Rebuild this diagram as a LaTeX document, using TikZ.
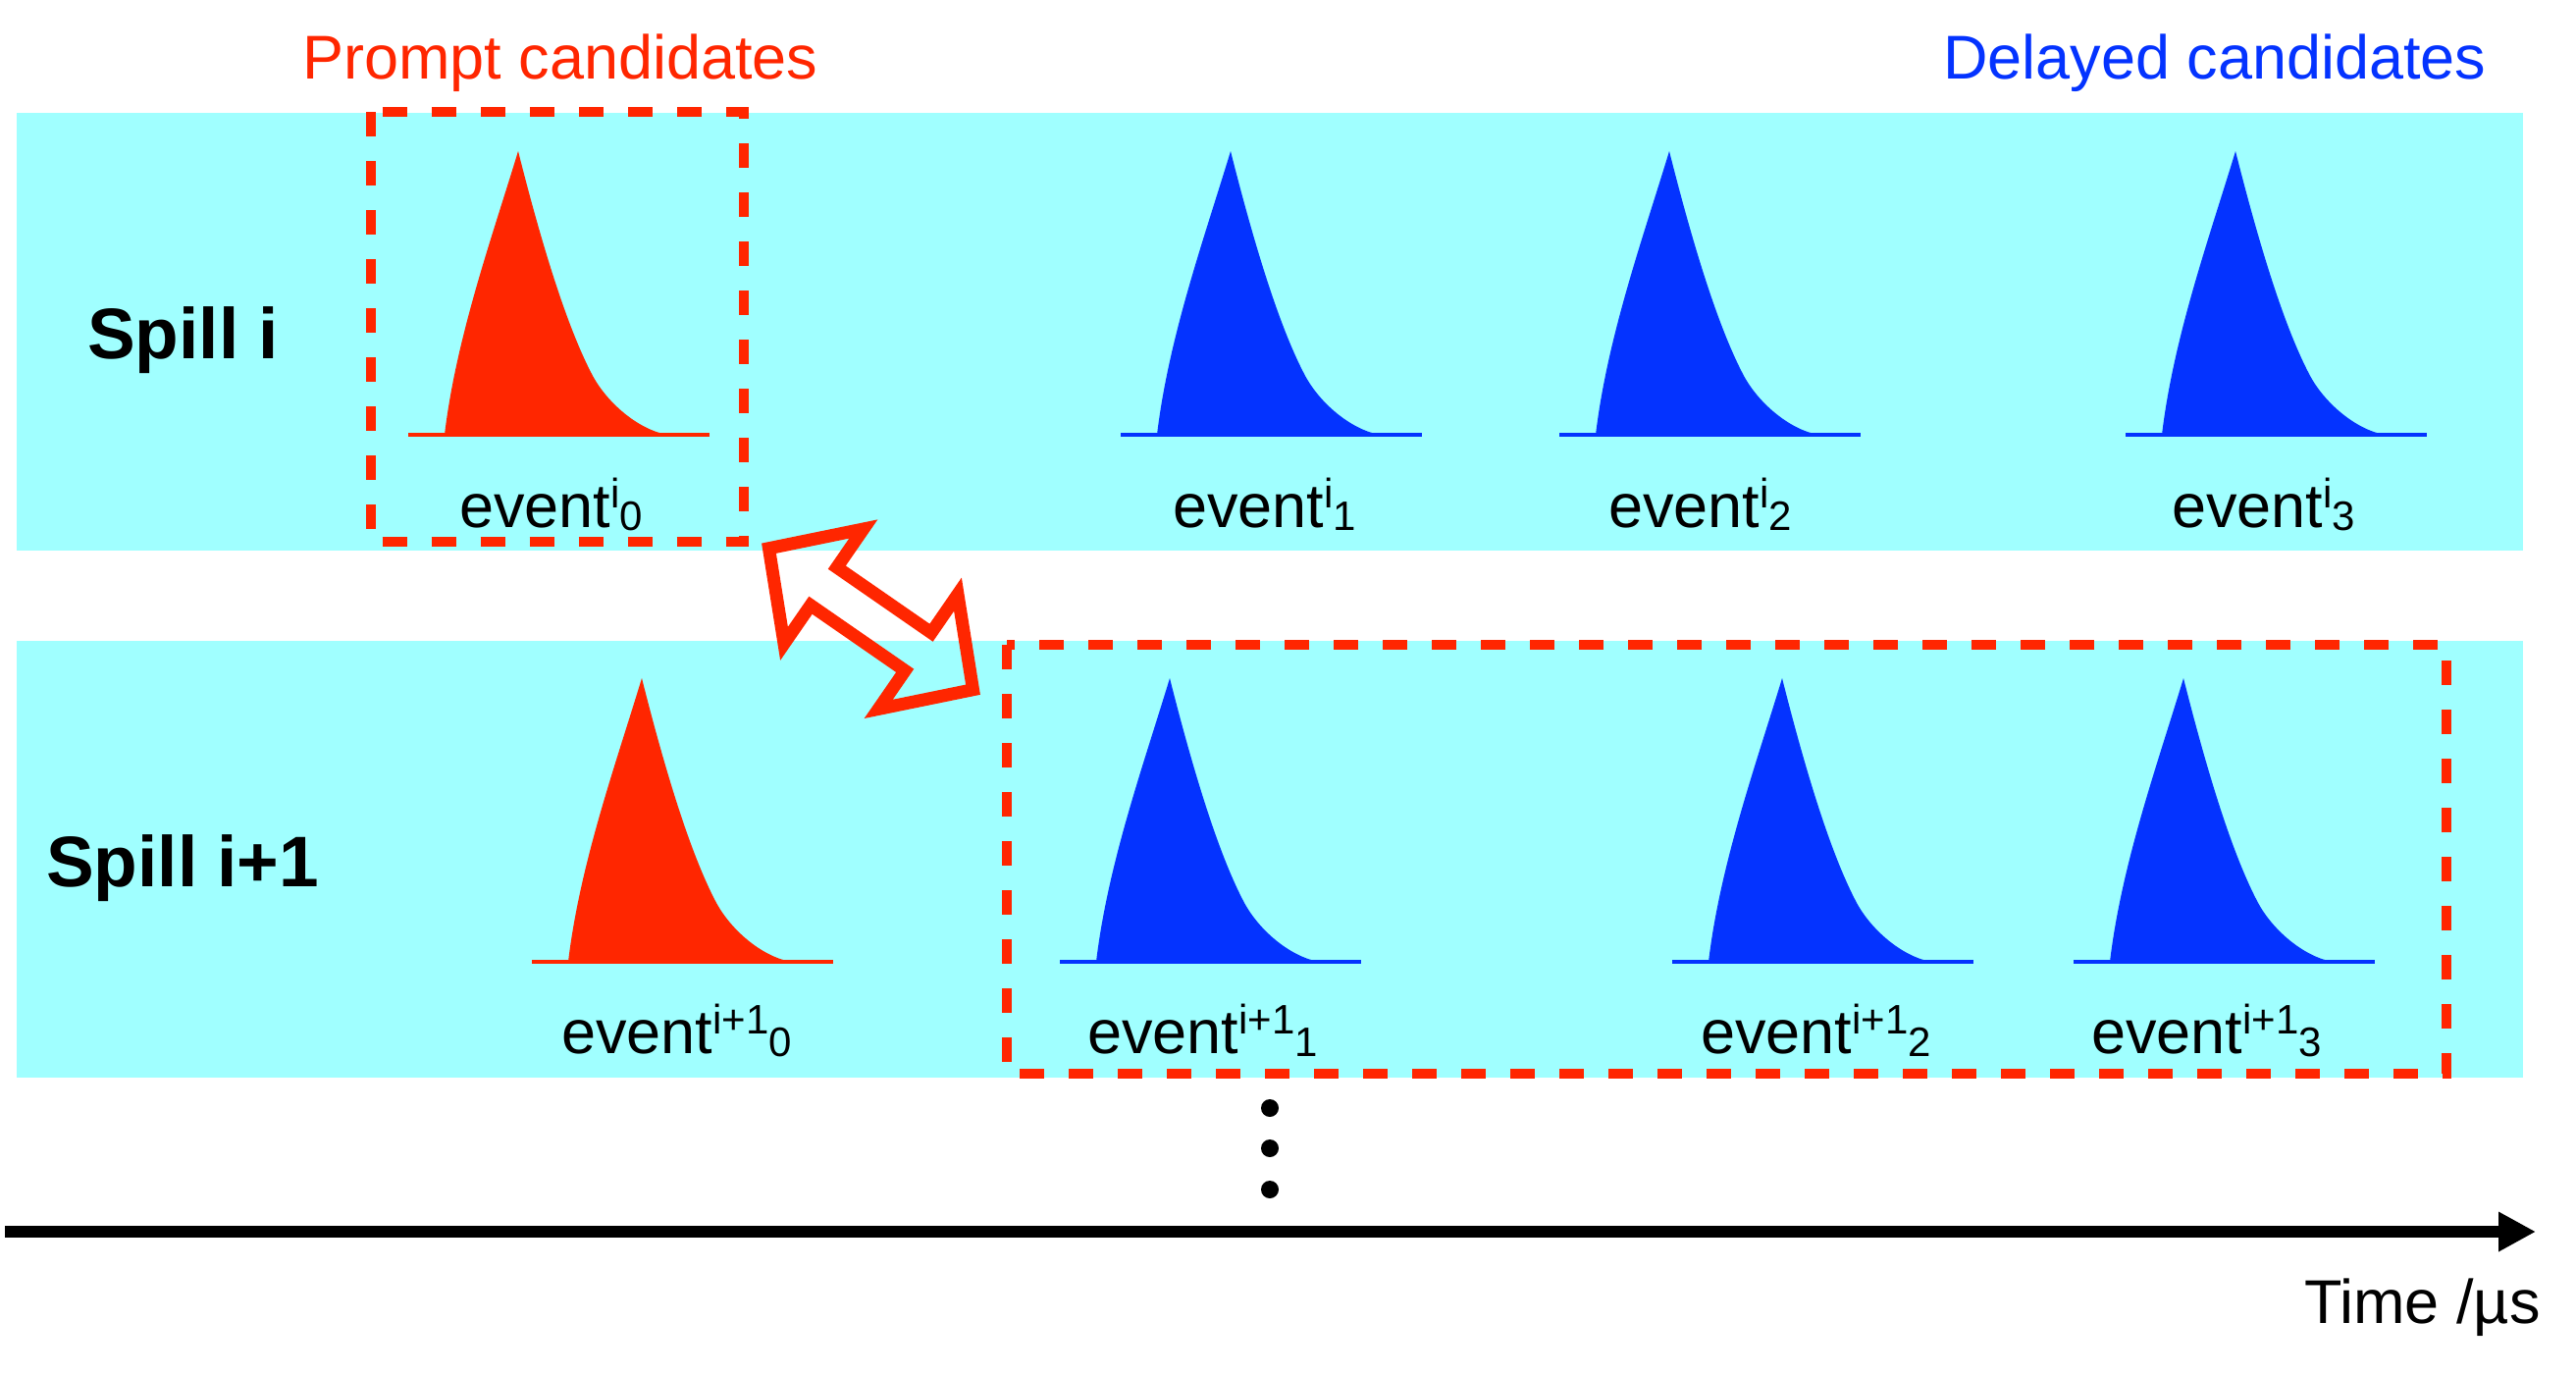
\documentclass[tikz,border=0pt]{standalone}
\usepackage{fontspec}
\setmainfont{Liberation Sans}
\usetikzlibrary{arrows.meta}
\definecolor{bandcyan}{RGB}{160,255,255}
\definecolor{pred}{RGB}{255,38,0}
\definecolor{pblue}{RGB}{4,51,255}
\newcommand\evlabel[2]{event\raisebox{20pt}{\fontsize{42}{42}\selectfont #1}\raisebox{-3pt}{\fontsize{42}{42}\selectfont #2}}
\tikzset{
  band/.style={fill=bandcyan, draw=none},
  candbox/.style={draw=pred, line width=10pt, dash pattern=on 25pt off 25pt},
  lbl/.style={anchor=base west, inner sep=0pt, font=\fontsize{63}{70}\selectfont},
  spill/.style={anchor=base west, inner sep=0pt, font=\fontsize{73}{80}\selectfont\bfseries},
  pics/pulse/.style={code={
    \fill[#1] (0,0) .. controls (12,-100) and (48,-200) .. (75,-289)
       .. controls (100,-190) and (125,-110) .. (150,-62)
       .. controls (166,-31) and (200,-4) .. (228,0) -- cycle;
    \draw[#1, line width=4pt] (-37,0) -- (270,0);
  }},
}
\begin{document}
\begin{tikzpicture}[x=1pt,y=-1pt]
\useasboundingbox[fill=white] (0,0) rectangle (2625,1400);
% bands
\fill[band] (17,115) rectangle (2571,561);
\fill[band] (17,653) rectangle (2571,1098);
% pulses top row
\pic (pt0) at (453,443) {pulse=pred};
\pic (pt1) at (1179,443) {pulse=pblue};
\pic (pt2) at (1626,443) {pulse=pblue};
\pic (pt3) at (2203,443) {pulse=pblue};
% pulses bottom row
\pic (pb0) at (579,980) {pulse=pred};
\pic (pb1) at (1117,980) {pulse=pblue};
\pic (pb2) at (1741,980) {pulse=pblue};
\pic (pb3) at (2150,980) {pulse=pblue};
% labels
\node[lbl] (et0) at (468,537) {\evlabel{i}{0}};
\node[lbl] (et1) at (1195,537) {\evlabel{i}{1}};
\node[lbl] (et2) at (1639,537) {\evlabel{i}{2}};
\node[lbl] (et3) at (2213,537) {\evlabel{i}{3}};
\node[lbl] (eb0) at (572,1073) {\evlabel{i+1}{0}};
\node[lbl] (eb1) at (1108,1073) {\evlabel{i+1}{1}};
\node[lbl] (eb2) at (1733,1073) {\evlabel{i+1}{2}};
\node[lbl] (eb3) at (2131,1073) {\evlabel{i+1}{3}};
\node[spill] (spilli) at (89,365) {Spill i};
\node[spill] (spillj) at (47,903) {Spill i+1};
\node[lbl, text=pred] (prompt) at (308,80) {Prompt candidates};
\node[lbl, text=pblue] (delayed) at (1980,80) {Delayed candidates};
\node[lbl] (time) at (2348,1348) {Time /µs};
% dashed candidate boxes
\draw[candbox] (377.5,114) rectangle (758,552);
\draw[candbox] (1026,657) rectangle (2493,1094);
% double arrow (outline)
\draw[pred, line width=13pt, line join=miter]
  (783.5,558.7) -- (879.8,539.0) -- (852.8,578.1) -- (949.0,644.7) -- (976.0,605.6)
  -- (991.5,702.7) -- (895.2,722.4) -- (922.2,683.3) -- (826.0,616.7) -- (799.0,655.8) -- cycle;
% dots
\fill (1294,1129) circle (9pt);
\fill (1294,1170) circle (9pt);
\fill (1294,1212) circle (9pt);
% time axis
\coordinate (axstart) at (5,1255);
\coordinate (axend) at (2584,1255);
\draw[line width=12.5pt, -{Triangle[length=38pt, width=38pt]}] (axstart) -- (axend);
\end{tikzpicture}
\end{document}
